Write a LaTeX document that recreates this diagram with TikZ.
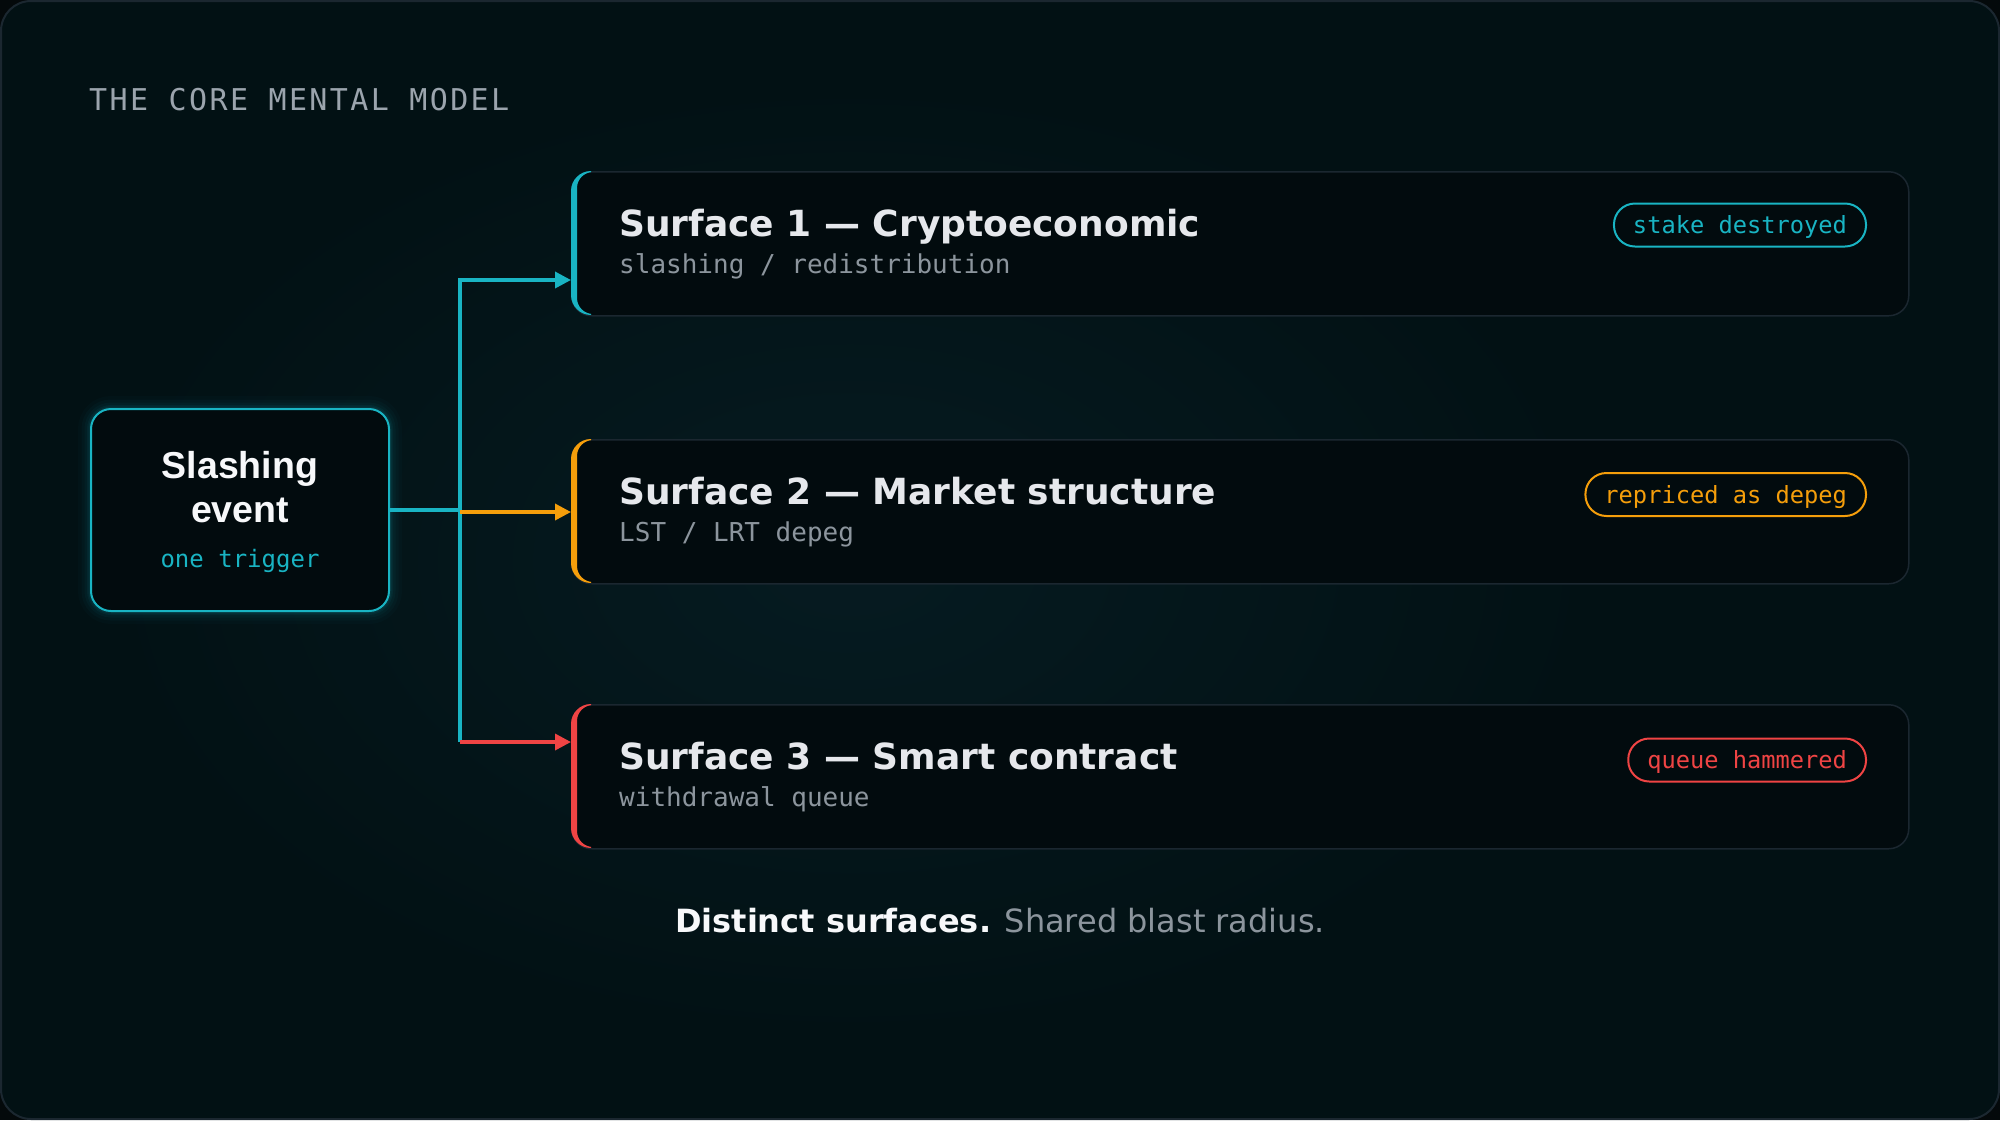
\documentclass[tikz,border=0pt]{standalone}
\usepackage{fontspec}
\setmainfont{DejaVu Sans}
\newfontfamily\monof{DejaVu Sans Mono}
\newfontfamily\monospaced[LetterSpace=8]{DejaVu Sans Mono}
\newfontfamily\argf{Liberation Sans}
\usetikzlibrary{arrows.meta}
\definecolor{outerc}{HTML}{04090B}
\definecolor{bgc}{HTML}{021114}
\definecolor{glowc}{HTML}{061B21}
\definecolor{framec}{HTML}{1B2730}
\definecolor{boxfill}{HTML}{020B0E}
\definecolor{cyanc}{HTML}{19B4C3}
\definecolor{orangec}{HTML}{F59E0B}
\definecolor{redc}{HTML}{EF4444}
\definecolor{mutec}{HTML}{8C959D}
\definecolor{titlec}{HTML}{9BA4AD}
\definecolor{headc}{HTML}{E6E8EC}
\definecolor{whitec}{HTML}{F7F8FA}
\newcommand\surfbar[3]{%
  \begin{scope}
    \clip (560,#2-5) rectangle (591,#3+5);
    \fill[#1, even odd rule] [rounded corners=20pt] (571,#2) rectangle (1908,#3)
      [rounded corners=16pt] (577,#2+1) rectangle (1908,#3-1);
  \end{scope}}
\begin{document}
\begin{tikzpicture}[x=1pt,y=-1pt,
  surf/.style={draw=framec, line width=1.5pt, fill=boxfill, rounded corners=20pt,
    minimum width=1337pt, minimum height=144pt, anchor=north west, inner sep=0pt},
  head/.style={anchor=base west, inner sep=0pt, text=headc,
    font=\fontsize{36}{40}\selectfont\bfseries},
  subt/.style={anchor=base west, inner sep=0pt, text=mutec,
    font=\monof\fontsize{26}{30}\selectfont},
  pill/.style={anchor=east, line width=2pt, rounded corners=21pt, fill=boxfill,
    minimum height=43pt, inner xsep=19pt, inner ysep=0pt,
    text height=20pt, text depth=3pt,
    font=\monof\fontsize{23.7}{28}\selectfont},
  link/.style={line width=3.5pt},
  tip/.style={-{Triangle[length=16pt,width=16pt]}}
]
\useasboundingbox (0,0) rectangle (2000,1120);
% background
\fill[outerc] (0,0) rectangle (2000,1120);
\fill[bgc, rounded corners=30pt] (1,1) rectangle (1999,1119);
\begin{scope}
  \clip[rounded corners=30pt] (1,1) rectangle (1999,1119);
  \shade[inner color=glowc, outer color=bgc] (850,560) ellipse (750 and 480);
\end{scope}
\draw[framec, line width=2pt, rounded corners=30pt] (1,1) rectangle (1999,1119);

% title
\node[anchor=base west, inner sep=0pt, text=titlec,
  font=\monospaced\fontsize{30}{34}\selectfont] (ttl) at (89,110) {THE CORE MENTAL MODEL};

% slashing event box with glow
\foreach \w/\o in {26/0.025, 19/0.035, 13/0.045, 8/0.06, 5/0.08}
  \draw[cyanc, opacity=\o, line width=\w pt, rounded corners=20pt] (91,409) rectangle (389,611);
\node[draw=cyanc, line width=2pt, fill=boxfill, rounded corners=20pt,
  minimum width=298pt, minimum height=202pt, inner sep=0pt] (ev) at (240,510) {};
\node[anchor=base, inner sep=0pt, text=whitec,
  font=\argf\bfseries\fontsize{37.5}{44}\selectfont] (evt1) at (240,478) {Slashing};
\node[anchor=base, inner sep=0pt, text=whitec,
  font=\argf\bfseries\fontsize{37.5}{44}\selectfont] (evt2) at (240,522) {event};
\node[anchor=base, inner sep=0pt, text=cyanc,
  font=\monof\fontsize{24}{28}\selectfont] (evt3) at (240,567) {one trigger};

% surfaces
\node[surf] (s1) at (571,171) {};
\node[surf] (s2) at (571,439) {};
\node[surf] (s3) at (571,704) {};
\surfbar{cyanc}{171}{315}
\surfbar{orangec}{439}{583}
\surfbar{redc}{704}{848}

\node[head] (h1) at (619,236) {Surface 1 — Cryptoeconomic};
\node[subt] (u1) at (619,273) {slashing / redistribution};
\node[head] (h2) at (619,504) {Surface 2 — Market structure};
\node[subt] (u2) at (619,541) {LST / LRT depeg};
\node[head] (h3) at (619,769) {Surface 3 — Smart contract};
\node[subt] (u3) at (619,806) {withdrawal queue};

\node[pill, draw=cyanc, text=cyanc] (p1) at (1867,225) {stake destroyed};
\node[pill, draw=orangec, text=orangec] (p2) at (1867,494.5) {repriced as depeg};
\node[pill, draw=redc, text=redc] (p3) at (1867,760) {queue hammered};

% connectors
\coordinate (jm) at (460,510);
\coordinate (jo) at (460,512);
\coordinate (jt) at (460,280);
\coordinate (jb) at (460,742);
\draw[link, cyanc] (ev.east) -- (jm);
\draw[link, cyanc, tip] (jb) -- (jt) -- (s1.west |- jt);
\draw[link, orangec, tip] (jo) -- (s2.west |- jo);
\draw[link, redc, tip] (jb) -- (s3.west |- jb);

% caption
\node[anchor=base, inner sep=0pt, font=\fontsize{32}{38}\selectfont] (cap) at (1000,932)
  {\textcolor{whitec}{\bfseries Distinct surfaces.} \textcolor{mutec}{Shared blast radius.}};
\end{tikzpicture}
\end{document}
